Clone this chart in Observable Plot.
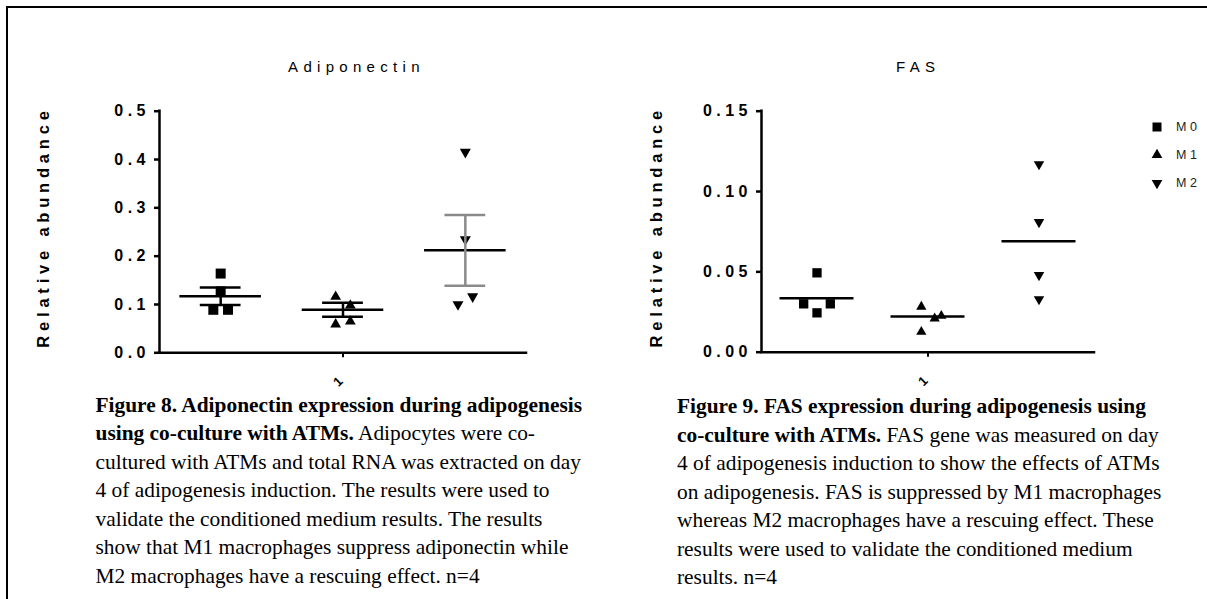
<!DOCTYPE html>
<html>
<head>
<meta charset="utf-8">
<script src="https://cdn.jsdelivr.net/npm/d3@7"></script>
<script src="https://cdn.jsdelivr.net/npm/@observablehq/plot@0.6"></script>
<style>
html, body { margin: 0; padding: 0; background: #fff; }
#page { position: relative; width: 1207px; height: 599px; overflow: hidden; background: #fff; }
#frameTop { position: absolute; left: 6px; top: 6px; width: 1201px; height: 2px; background: #000; }
#frameLeft { position: absolute; left: 6px; top: 6px; width: 2px; height: 593px; background: #000; }
.panel { position: absolute; top: 0; }
.title { position: absolute; font-family: Arial, "Liberation Sans", sans-serif; font-size: 15px; letter-spacing: 5.3px; padding-left: 5.3px; white-space: nowrap; transform: translate(-50%, -50%); line-height: 15px; color: #000; }
.caption { position: absolute; font-family: "Liberation Serif", "Times New Roman", serif; font-size: 21.4px; line-height: 28.5px; white-space: nowrap; color: #000; }
.legend-row { position: absolute; display: flex; align-items: center; height: 14px; transform: translateY(-50%); }
.legend-row span { font-family: Arial, "Liberation Sans", sans-serif; font-size: 12.5px; letter-spacing: 3.5px; color: #222; margin-left: 12px; }
</style>
</head>
<body>
<div id="page">
  <div id="frameTop"></div>
  <div id="frameLeft"></div>
  <div id="left" class="panel" style="left:0px"></div>
  <div id="right" class="panel" style="left:600px"></div>
  <div id="titles"></div>
  <div id="legend"></div>
  <div id="cap1" class="caption" style="left:95.5px; top:390.5px"></div>
  <div id="cap2" class="caption" style="left:677px; top:392px"></div>
</div>
<script>
// ---------- data ----------
const categories = ["M0", "M1", "M2"];
const legendLabels = ["M0", "M1", "M2"];
const xTickLabel = ["1"];
const yLabel = ["Relative abundance"];
const chartTitles = ["Adiponectin", "FAS"];

// Adiponectin (left)
const adipoM0 = [0.164, 0.127, 0.089, 0.089];
const adipoM1 = [0.116, 0.098, 0.059, 0.065];
const adipoM2 = [0.4155, 0.2345, 0.100, 0.1165];
const adipoM0Slot = [0, 0, -1, 1];
const adipoM1Slot = [-1, 1, -1, 1];
const adipoM2Slot = [0, 0, -1, 1];
const adipoMean = [0.117, 0.089, 0.212];
const adipoSem = [0.018, 0.0145, 0.0733];
const adipoTicks = [0, 0.1, 0.2, 0.3, 0.4, 0.5];

// FAS (right)
const fasM0 = [0.0494, 0.0301, 0.0301, 0.0245];
const fasM1 = [0.0283, 0.0210, 0.0226, 0.0127];
const fasM2 = [0.117, 0.081, 0.048, 0.033];
const fasM0Slot = [0, -2, 2, 0];
const fasM1Slot = [-1, 1, 2, -1];
const fasM2Slot = [0, 0, 0, 0];
const fasMean = [0.0336, 0.0222, 0.0691];
const fasTicks = [0, 0.05, 0.10, 0.15];

const captionLeft = [
  "<b>Figure 8. Adiponectin expression during adipogenesis</b>",
  "<b>using co-culture with ATMs.</b> Adipocytes were co-",
  "cultured with ATMs and total RNA was extracted on day",
  "4 of adipogenesis induction. The results were used to",
  "validate the conditioned medium results. The results",
  "show that M1 macrophages suppress adiponectin while",
  "M2 macrophages have a rescuing effect. n=4"
];
const captionRight = [
  "<b>Figure 9. FAS expression during adipogenesis using</b>",
  "<b>co-culture with ATMs.</b> FAS gene was measured on day",
  "4 of adipogenesis induction to show the effects of ATMs",
  "on adipogenesis. FAS is suppressed by M1 macrophages",
  "whereas M2 macrophages have a rescuing effect. These",
  "results were used to validate the conditioned medium",
  "results. n=4"
];

// ---------- drawing ----------
const GRAY = "#8a8a8a";
const triangleDown = {
  draw(context, size) {
    const y = -Math.sqrt(size / (Math.sqrt(3) * 3));
    context.moveTo(0, -y * 2);
    context.lineTo(-Math.sqrt(3) * y, y);
    context.lineTo(Math.sqrt(3) * y, y);
    context.closePath();
  }
};

function panel(cfg) {
  const rows = cfg.values.flatMap((arr, ci) =>
    arr.map((v, k) => ({ci, v, slot: cfg.slots[ci][k]})));
  const stats = cfg.mean.map((m, ci) => ({ci, m, s: cfg.sem ? cfg.sem[ci] : 0}));
  const jit = 0.06;
  const xOf = d => d.ci + d.slot * jit;
  const yMax = cfg.ticks[cfg.ticks.length - 1];
  const marks = [
    Plot.dot(rows.filter(d => d.ci === 0), {x: xOf, y: "v", symbol: "square", r: cfg.r[0], fill: "#000"}),
    Plot.dot(rows.filter(d => d.ci === 1), {x: xOf, y: "v", symbol: "triangle", r: cfg.r[1], fill: "#000"}),
    Plot.dot(rows.filter(d => d.ci === 2), {x: xOf, y: "v", symbol: triangleDown, r: cfg.r[2], fill: "#000"}),
    Plot.ruleY(stats, {y: "m", x1: d => d.ci - 1/3, x2: d => d.ci + 1/3, stroke: "#000", strokeWidth: 2.5})
  ];
  if (cfg.sem) {
    const col = d => d.ci === 2 ? GRAY : "#000";
    marks.push(
      Plot.ruleX(stats, {x: "ci", y1: d => d.m - d.s, y2: d => d.m + d.s, stroke: col, strokeWidth: 2.5}),
      Plot.ruleY(stats, {y: d => d.m + d.s, x1: d => d.ci - 1/6, x2: d => d.ci + 1/6, stroke: col, strokeWidth: 2.5}),
      Plot.ruleY(stats, {y: d => d.m - d.s, x1: d => d.ci - 1/6, x2: d => d.ci + 1/6, stroke: col, strokeWidth: 2.5})
    );
  }
  marks.push(
    Plot.ruleX([-0.5], {y1: 0, y2: yMax, stroke: "#000", strokeWidth: 2.5, strokeLinecap: "square"}),
    Plot.ruleY([0], {stroke: "#000", strokeWidth: 2.5, strokeLinecap: "square"}),
    Plot.axisY({ticks: cfg.ticks, tickFormat: d => d.toFixed(cfg.digits).split("").join(" "),
      tickSize: 5, tickPadding: 9, strokeWidth: 2.5, label: null, anchor: "left"}),
    Plot.axisX({ticks: [1], tickFormat: () => "", tickSize: 5, strokeWidth: 2, label: null, anchor: "bottom"}),
    Plot.text(xTickLabel, {x: 1, y: 0, text: d => d, dy: 29, dx: -5, rotate: -45, fontSize: 13, fontWeight: "bold", textAnchor: "middle"}),
    Plot.text(yLabel, {frameAnchor: "left", text: d => d, rotate: -90, dx: cfg.ylabelDx, dy: -5, fontSize: 16.5, fontWeight: "bold", textAnchor: "middle"})
  );
  const svg = Plot.plot({
    width: cfg.width, height: 400,
    marginLeft: cfg.ml, marginRight: cfg.mr, marginTop: 110.7, marginBottom: cfg.mb,
    x: {domain: [-0.5, 2.5], axis: null},
    y: {domain: [0, yMax], axis: null},
    style: {fontFamily: "Arial, 'Liberation Sans', sans-serif", fontSize: "16px", fontWeight: "bold", color: "#000", background: "transparent", overflow: "visible"},
    marks
  });
  svg.querySelectorAll("text").forEach(t => {
    if (t.textContent === yLabel[0]) t.style.letterSpacing = "4.8px";
  });
  return svg;
}

document.getElementById("left").appendChild(panel({
  values: [adipoM0, adipoM1, adipoM2],
  slots: [adipoM0Slot, adipoM1Slot, adipoM2Slot],
  mean: adipoMean, sem: adipoSem, ticks: adipoTicks, digits: 1,
  r: [5.64, 4.0, 4.1],
  width: 600, ml: 159, mr: 74, mb: 47.7, ylabelDx: -115.7
}));

document.getElementById("right").appendChild(panel({
  values: [fasM0, fasM1, fasM2],
  slots: [fasM0Slot, fasM1Slot, fasM2Slot],
  mean: fasMean, sem: null, ticks: fasTicks, digits: 2,
  r: [5.25, 3.8, 3.9],
  width: 607, ml: 161, mr: 113, mb: 48.3, ylabelDx: -104.5
}));

// titles
const titlePos = [[353.8, 65.7], [915.5, 65.7]];
const titles = document.getElementById("titles");
chartTitles.forEach((t, i) => {
  const d = document.createElement("div");
  d.className = "title";
  d.textContent = t;
  d.style.left = titlePos[i][0] + "px";
  d.style.top = titlePos[i][1] + "px";
  titles.appendChild(d);
});

// legend
const legendSymbols = [d3.symbolSquare, d3.symbolTriangle, triangleDown];
const legendSizes = [81, 50, 50];
const legendY = [127, 155, 183];
const legend = document.getElementById("legend");
legendLabels.forEach((lab, i) => {
  const row = document.createElement("div");
  row.className = "legend-row";
  row.style.left = "1150px";
  row.style.top = legendY[i] + "px";
  const s = d3.create("svg").attr("width", 14).attr("height", 14);
  s.append("path").attr("transform", "translate(7,7)")
    .attr("d", d3.symbol(legendSymbols[i], legendSizes[i])()).attr("fill", "#000");
  row.appendChild(s.node());
  const sp = document.createElement("span");
  sp.textContent = lab;
  row.appendChild(sp);
  legend.appendChild(row);
});

// captions
document.getElementById("cap1").innerHTML = captionLeft.join("<br>");
document.getElementById("cap2").innerHTML = captionRight.join("<br>");
</script>
</body>
</html>
